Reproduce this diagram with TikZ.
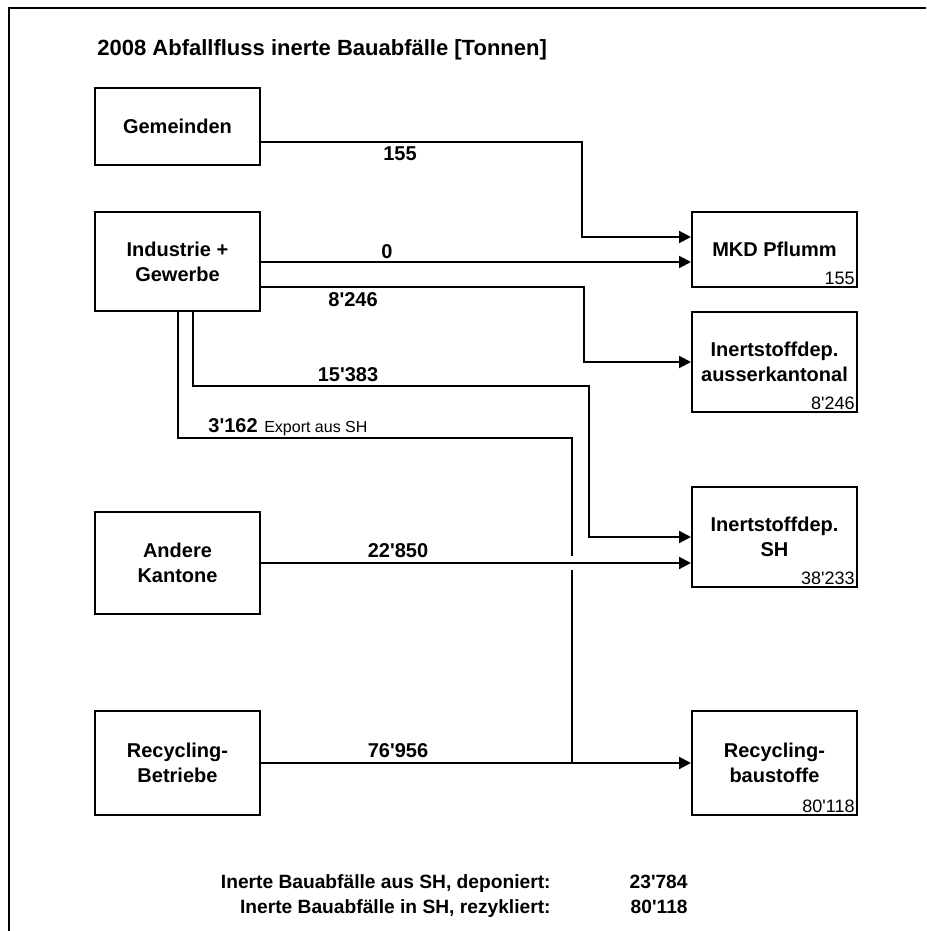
\documentclass[tikz,border=0pt]{standalone}
\usepackage{fontspec}
\setmainfont{Liberation Sans}
\usetikzlibrary{arrows.meta,calc}
\newcommand{\ap}{\textquotesingle}

\begin{document}
\begin{tikzpicture}[x=0.5pt, y=-0.5pt,
        box/.style={draw, line width=1pt, minimum width=82.5pt, inner sep=2pt, align=center, font=\bfseries\fontsize{10}{12.5}\selectfont},
        flow/.style={line width=1pt, -{Triangle[length=6pt, width=6pt]}},
        pipe/.style={line width=1pt},
        amount/.style={font=\bfseries\fontsize{10}{12}\selectfont},
        total/.style={anchor=south east, inner sep=1.5pt, font=\fontsize{9}{11}\selectfont},
        summary/.style={anchor=base east, inner sep=0pt, font=\bfseries\fontsize{9.6}{12}\selectfont}]
        \useasboundingbox (0,0) rectangle (926,931);
        % Frame and title
        \draw[line width=1.2pt] (926,8) -| (9,931);
        \node[anchor=west, inner sep=0pt, font=\bfseries\fontsize{11}{13}\selectfont] (title) at (97,50) {2008 Abfallfluss inerte Bauabfälle [Tonnen]};

        % Sources
        \node[box, minimum height=38.5pt] (gem) at (177.5,126.5) {Gemeinden};
        \node[box, minimum height=49.5pt] (ind) at (177.5,261.5) {Industrie +\\Gewerbe};
        \node[box, minimum height=51pt] (and) at (177.5,563) {Andere\\Kantone};
        \node[box, minimum height=52pt] (rec) at (177.5,763) {Recycling-\\Betriebe};

        % Sinks
        \node[box, minimum height=37.5pt] (mkd) at (774.5,249.5) {MKD Pflumm};
        \node[box, minimum height=50pt] (iak) at (774.5,362) {Inertstoffdep.\\ausserkantonal};
        \node[box, minimum height=50pt] (ish) at (774.5,537) {Inertstoffdep.\\SH};
        \node[box, minimum height=52pt] (rbs) at (774.5,763) {Recycling-\\baustoffe};
        \node[total] (mkdsum) at (mkd.south east) {155};
        \node[total] (iaksum) at (iak.south east) {8\ap246};
        \node[total] (ishsum) at (ish.south east) {38\ap233};
        \node[total] (rbssum) at (rbs.south east) {80\ap118};

        % Helper points
        \coordinate (mkdA) at ($(mkd.west)+(0,-12.5)$);
        \coordinate (mkdB) at ($(mkd.west)+(0,12.5)$);
        \coordinate (split) at ($(ind.south)+(394.5,126)$);
        \coordinate (join) at (split |- rec.east);
        \coordinate (gapA) at ($(split |- and.east)+(0,-7)$);
        \coordinate (gapB) at ($(split |- and.east)+(0,7)$);

        % Flows
        \draw[flow] ($(gem.east)+(0,15)$) -| ($(mkdA)+(-109,0)$) -- (mkdA);
        \draw[flow] (ind.east |- mkdB) -- (mkdB);
        \draw[flow] ($(ind.east)+(0,25.5)$) -| ($(iak.west)+(-107,0)$) -- (iak.west);
        \draw[flow] ($(ind.south)+(15.5,0)$) |- ($(ish.west)+(-102,-151)$) |- (ish.west);
        \draw[pipe] (ind.south) |- (split) -- (gapA);
        \draw[pipe] (gapB) -- (join);
        \draw[flow] (and.east) -- (and.east -| ish.west);
        \draw[flow] (rec.east) -- (rbs.west);

        % Amounts
        \node[amount] (a1) at (400,154) {155};
        \node[amount] (a2) at (387,252) {0};
        \node[amount] (a3) at (353,300) {8\ap246};
        \node[amount] (a4) at (348,375) {15\ap383};
        \node[anchor=base west, inner sep=0pt] (a5) at (208,432) {{\bfseries\fontsize{10}{12}\selectfont 3\ap162}\,\,{\fontsize{8}{10}\selectfont Export aus SH}};
        \node[amount] (a6) at (398,551) {22\ap850};
        \node[amount] (a7) at (398,751) {76\ap956};

        % Summary
        \node[summary] (s1) at (551,888) {Inerte Bauabfälle aus SH, deponiert:};
        \node[summary] (s2) at (551,913) {Inerte Bauabfälle in SH, rezykliert:};
        \node[summary] (v1) at (688,888) {23\ap784};
        \node[summary] (v2) at (688,913) {80\ap118};
    \end{tikzpicture}
\end{document}
